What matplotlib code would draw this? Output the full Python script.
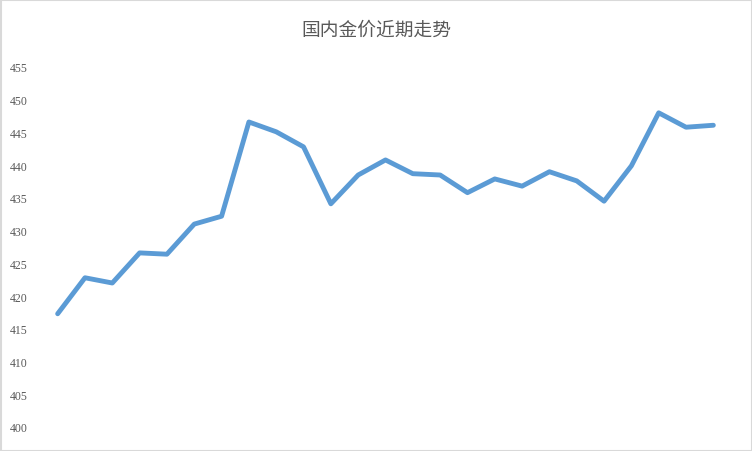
import matplotlib
matplotlib.use("Agg")
import matplotlib.pyplot as plt
from matplotlib.patches import Rectangle

plt.rcParams['font.family'] = ['Noto Sans CJK SC', 'DejaVu Sans']

title = "国内金价近期走势"
values = [417.3, 422.8, 422.0, 426.6, 426.4, 431.0, 432.2, 446.6, 445.1, 442.8,
          434.1, 438.5, 440.8, 438.7, 438.5, 435.8, 437.9, 436.8, 439.0, 437.6,
          434.5, 439.9, 448.0, 445.8, 446.1]
yticks = [400, 405, 410, 415, 420, 425, 430, 435, 440, 445, 450, 455]

fig = plt.figure(figsize=(7.52, 4.52), dpi=100)
ax = fig.add_axes([44/752, 1-428/452, (727-44)/752, (428-68)/452])
x = list(range(len(values)))
ax.plot(x, values, color='#5B9BD5', linewidth=3.5, solid_capstyle='round', solid_joinstyle='round')
ax.set_xlim(-0.5, len(values)-0.5)
ax.set_ylim(400, 455)
ax.set_yticks(yticks)
ax.set_yticklabels([str(v) for v in yticks], family='Liberation Serif', fontsize=8.5, color='#595959')
for lab in ax.get_yticklabels():
    lab.set_y(lab.get_position()[1])
ax.tick_params(axis='y', length=0, pad=12)
ax.set_xticks([])
for s in ax.spines.values():
    s.set_visible(False)

fig.text(0.5, 1-30/452, title, ha='center', va='center', fontsize=13.5, color='#595959')
fig.patches.append(Rectangle((0.5/752, 0.5/452), 1-1/752, 1-1/452, transform=fig.transFigure,
                             fill=False, edgecolor='#D9D9D9', linewidth=1.5))
fig.savefig('out.png', dpi=100)
